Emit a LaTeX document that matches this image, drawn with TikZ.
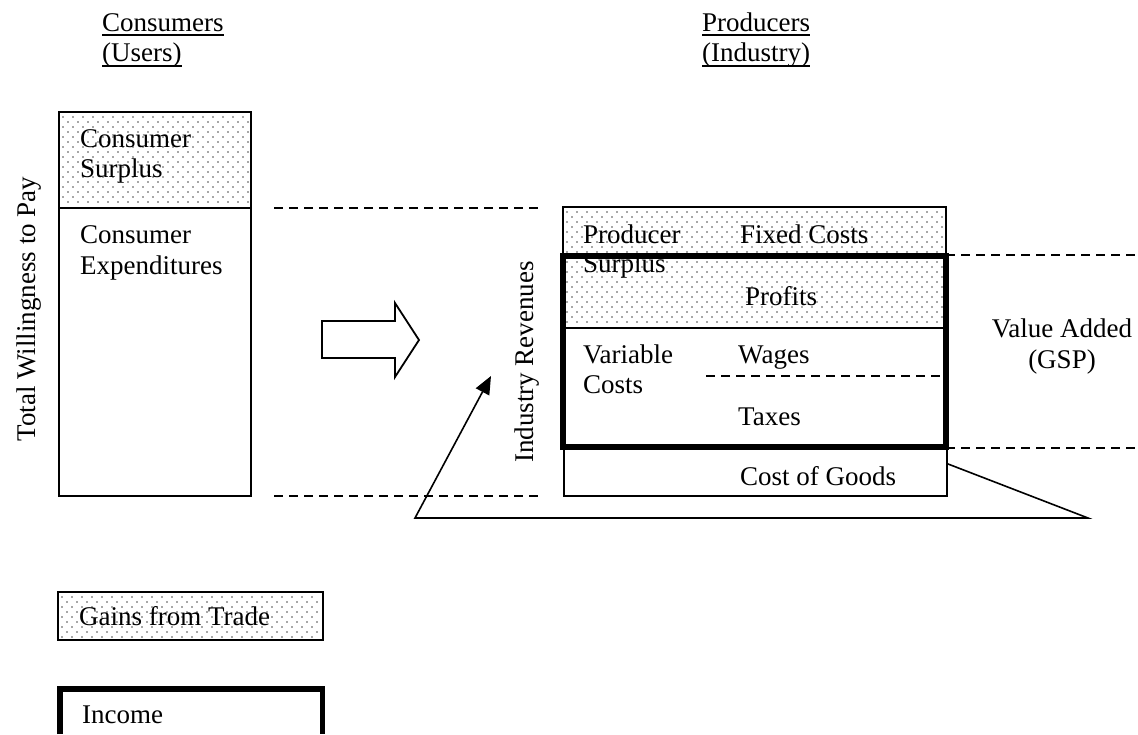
\documentclass[tikz,border=0pt]{standalone}
\usepackage{fontspec}
\setmainfont{Liberation Serif}
\usetikzlibrary{arrows.meta}
\newcommand\mydotgrid[4]{% x1, y1, x2, y2  (square grid step 10)
  \foreach \xx in {#1,\the\numexpr#1+10\relax,...,#3}{%
    \foreach \yy in {#2,\the\numexpr#2+10\relax,...,#4}{%
      \fill[black!70] (\xx,\yy) circle (0.9pt);}}}
\newcommand\mydots[4]{% staggered lattice
  \mydotgrid{#1}{#2}{#3}{#4}%
  \mydotgrid{\the\numexpr#1+5\relax}{\the\numexpr#2+5\relax}{#3}{#4}}
\begin{document}
\begin{tikzpicture}[x=1pt,y=-1pt,
  txt/.style={inner sep=0pt, anchor=base west, font=\fontsize{27}{31}\selectfont},
  ctxt/.style={txt, anchor=base},
  rtxt/.style={inner sep=0pt, anchor=center, rotate=90, font=\fontsize{27}{31}\selectfont},
  thinline/.style={draw, line width=1.8pt},
  thickline/.style={draw, line width=5.5pt},
  dashline/.style={line width=1.6pt, dash pattern=on 9pt off 6pt},
  uline/.style={line width=1.8pt}
]
\useasboundingbox (0,0) rectangle (1138,734);

% ---- titles ----
\node[txt] (t1) at (102,31) {Consumers};
\node[txt] (t2) at (102,61) {(Users)};
\draw[uline] ([yshift=-4pt]t1.base west) -- ([yshift=-4pt]t1.base east);
\draw[uline] ([yshift=-5pt]t2.base west) -- ([yshift=-5pt]t2.base east);
\node[txt] (t3) at (702,31) {Producers};
\node[txt] (t4) at (702,61) {(Industry)};
\draw[uline] ([yshift=-4pt]t3.base west) -- ([yshift=-4pt]t3.base east);
\draw[uline] ([yshift=-5pt]t4.base west) -- ([yshift=-5pt]t4.base east);

% ---- consumer column ----
\mydots{63}{117}{248}{205}
\draw[thinline] (59,112) rectangle (251,496);
\draw[thinline] (59,208) -- (251,208);
\node[txt] (cs1) at (80,147) {Consumer};
\node[txt] (cs2) at (80,177) {Surplus};
\node[txt] (ce1) at (80,243) {Consumer};
\node[txt] (ce2) at (80,274) {Expenditures};
\node[rtxt] (twp) at (29,309) {Total Willingness to Pay};

% ---- dashed guide lines ----
\draw[dashline] (274,208) -- (538,208);
\draw[dashline] (274,496) -- (538,496);
\draw[dashline] (946,255) -- (1138,255);
\draw[dashline] (946,448) -- (1138,448);

% ---- hollow arrow ----
\draw[line width=1.8pt, line join=miter] (322,321) -- (395,321) -- (395,303) -- (419,340)
  -- (395,377) -- (395,358) -- (322,358) -- cycle;

\node[rtxt] (ir) at (527,362) {Industry Revenues};

% ---- producer column ----
\mydots{567}{212}{943}{325}
\draw[thinline] (563,207) rectangle (946,328);
\draw[dashline] (706,376) -- (946,376);
\node[draw, line width=1.8pt, inner sep=0pt, anchor=north west,
      minimum width=383pt, minimum height=48pt] (cog) at (563,447) {};
\draw[thickline] (563,256) rectangle (946,447);

\node[txt] (ps1) at (583,243) {Producer};
\node[txt] (ps2) at (583,272) {Surplus};
\node[txt] (fc) at (740,243) {Fixed Costs};
\node[txt] (pr) at (745,305) {Profits};
\node[txt] (vc1) at (583,363) {Variable};
\node[txt] (vc2) at (583,393) {Costs};
\node[txt] (wg) at (738,363) {Wages};
\node[txt] (tx) at (738,425) {Taxes};
\node[txt] (cg) at (740,485) {Cost of Goods};

\node[ctxt] (va1) at (1062,337) {Value Added};
\node[ctxt] (va2) at (1062,368) {(GSP)};

% ---- feedback connector ----
\coordinate (k1) at (1088,518);
\coordinate (k2) at (415,518);
\coordinate (tip) at (491,376);
\draw[line width=1.6pt, line join=miter, -{Triangle[length=18pt,width=15pt]}]
  ([yshift=8pt]cog.east) -- (k1) -- (k2) -- (tip);

% ---- legend ----
\mydots{62}{597}{320}{637}
\draw[thinline] (58,592) rectangle (323,640);
\node[txt] (lg1) at (79,625) {Gains from Trade};
\draw[thickline] (59.75,734) -- (59.75,688.75) -- (322.25,688.75) -- (322.25,734);
\node[txt] (lg2) at (82,723) {Income};
\end{tikzpicture}
\end{document}
